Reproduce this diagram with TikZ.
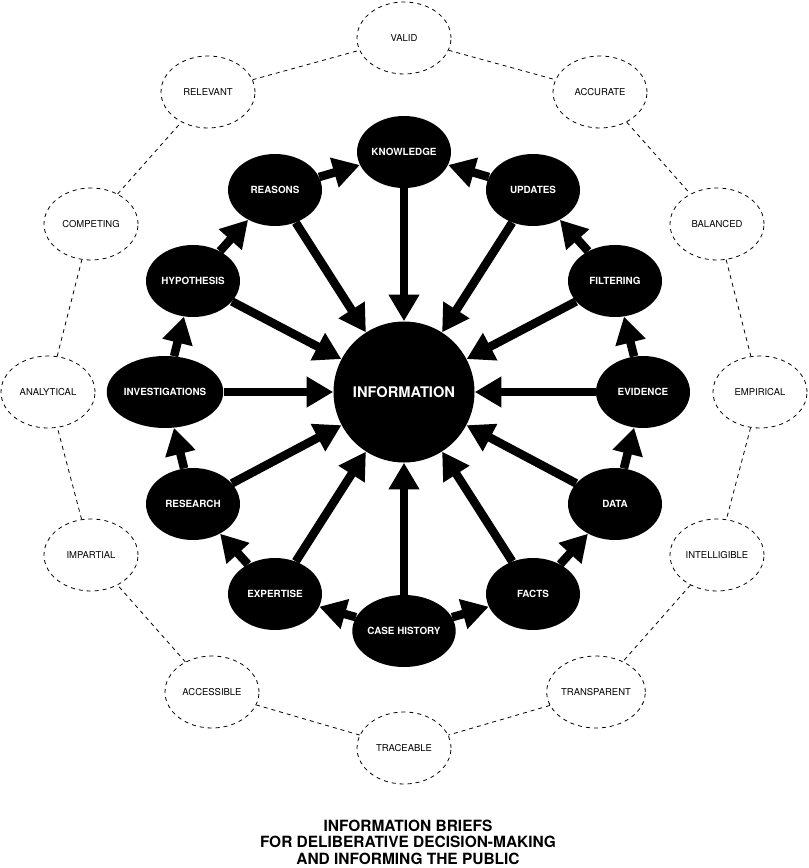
\documentclass[tikz,border=0pt]{standalone}
\usepackage{fontspec}
\setmainfont{TeX Gyre Heros}
\usetikzlibrary{arrows.meta,shapes.geometric}

\begin{document}
\begin{tikzpicture}[x=0.75pt,y=-0.75pt,
    inner/.style={ellipse,fill=black,text=white,font=\fontsize{7.4}{9}\selectfont\bfseries,minimum width=70.5pt,minimum height=54pt,inner sep=0pt},
    outer/.style={ellipse,draw,dashed,line width=0.6pt,font=\fontsize{7.1}{9}\selectfont,minimum width=70.5pt,minimum height=54pt,inner sep=0pt},
    bigarrow/.style={line width=6.4pt,-{Triangle[width=22pt,length=20pt]}},
    link/.style={dashed,line width=0.6pt}]
    \useasboundingbox (0,0) rectangle (808,868);
    \node (info) [circle,fill=black,text=white,font=\fontsize{11}{13}\selectfont\bfseries,minimum size=105.75pt,inner sep=0pt] at (404,392) {INFORMATION};
    \node (know) [inner] at (404,152) {KNOWLEDGE};
    \node (upd) [inner] at (533,190) {UPDATES};
    \node (filt) [inner] at (615,281) {FILTERING};
    \node (evid) [inner] at (643,392) {EVIDENCE};
    \node (data) [inner] at (615,504) {DATA};
    \node (facts) [inner] at (533,594) {FACTS};
    \node (case) [inner] at (404,631) {CASE HISTORY};
    \node (exper) [inner] at (275,594) {EXPERTISE};
    \node (res) [inner] at (193,504) {RESEARCH};
    \node (inv) [inner] at (165,392) {INVESTIGATIONS};
    \node (hyp) [inner] at (193,281) {HYPOTHESIS};
    \node (reas) [inner] at (275,190) {REASONS};
    \node (valid) [outer] at (404,38) {VALID};
    \node (accur) [outer] at (600,92) {ACCURATE};
    \node (bal) [outer] at (717,224) {BALANCED};
    \node (emp) [outer] at (760,392) {EMPIRICAL};
    \node (intel) [outer] at (717,555) {INTELLIGIBLE};
    \node (transp) [outer] at (596,692) {TRANSPARENT};
    \node (trace) [outer] at (404,748) {TRACEABLE};
    \node (access) [outer] at (212,692) {ACCESSIBLE};
    \node (impart) [outer] at (91,555) {IMPARTIAL};
    \node (analyt) [outer] at (48,392) {ANALYTICAL};
    \node (compet) [outer] at (91,224) {COMPETING};
    \node (relev) [outer] at (208,92) {RELEVANT};
    \node (title) [align=center,font=\fontsize{11.6}{12.3}\selectfont\bfseries] at (408,842) {INFORMATION BRIEFS\\FOR DELIBERATIVE DECISION-MAKING\\AND INFORMING THE PUBLIC};
    \draw [link] (valid) -- (accur) -- (bal) -- (emp) -- (intel) -- (transp) -- (trace) -- (access) -- (impart) -- (analyt) -- (compet) -- (relev) -- (valid);
    \foreach \n in {know,upd,filt,evid,data,facts,case,exper,res,inv,hyp,reas}
        \draw [bigarrow] (\n) -- (info);
    \draw [bigarrow] (case) -- (facts);
    \draw [bigarrow] (facts) -- (data);
    \draw [bigarrow] (data) -- (evid);
    \draw [bigarrow] (evid) -- (filt);
    \draw [bigarrow] (filt) -- (upd);
    \draw [bigarrow] (upd) -- (know);
    \draw [bigarrow] (case) -- (exper);
    \draw [bigarrow] (exper) -- (res);
    \draw [bigarrow] (res) -- (inv);
    \draw [bigarrow] (inv) -- (hyp);
    \draw [bigarrow] (hyp) -- (reas);
    \draw [bigarrow] (reas) -- (know);
\end{tikzpicture}
\end{document}
